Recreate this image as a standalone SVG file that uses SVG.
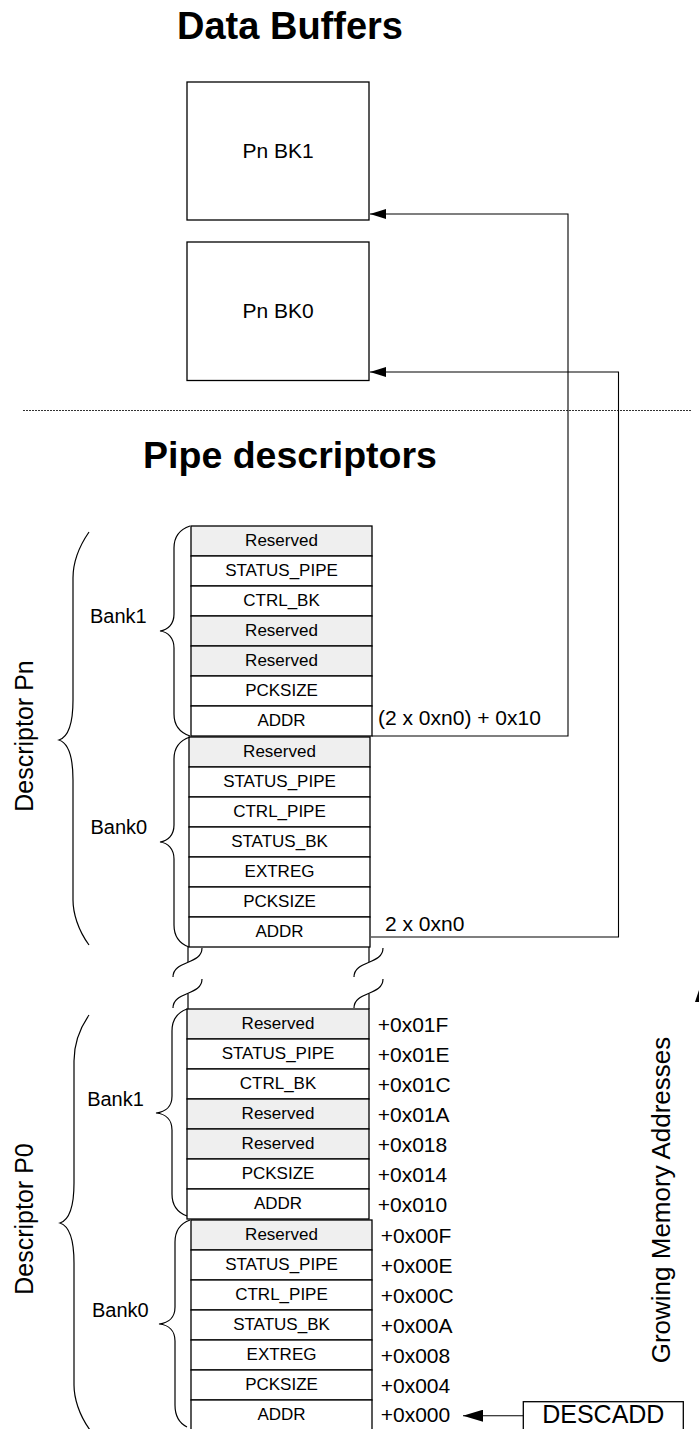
<svg xmlns="http://www.w3.org/2000/svg" width="699" height="1429" viewBox="0 0 699 1429">
<style>
text{font-family:"Liberation Sans",Arial,sans-serif;fill:#000}
.title{font-weight:bold;text-anchor:middle}
.box{fill:#fff;stroke:#000;stroke-width:1.3}
.res{fill:#efefef;stroke:#000;stroke-width:1.3}
.reg{fill:#fff;stroke:#000;stroke-width:1.3}
.rt{font-size:17px;text-anchor:middle}
.off{font-size:21px}
.bank{font-size:20px;text-anchor:middle}
.desc{font-size:25px;text-anchor:middle}
.br{fill:none;stroke:#000;stroke-width:1.2}
.ln{fill:none;stroke:#000;stroke-width:1.1}
</style>
<defs>
<marker id="ah" viewBox="0 0 16 10" refX="16" refY="5" markerWidth="16" markerHeight="10" orient="auto" markerUnits="userSpaceOnUse"><path d="M0,0 L16,5 L0,10 z" fill="#000"/></marker>
<marker id="ah2" viewBox="0 0 20 12" refX="20" refY="6" markerWidth="20" markerHeight="12" orient="auto" markerUnits="userSpaceOnUse"><path d="M0,0 L20,6 L0,12 z" fill="#000"/></marker>
</defs>

<text class="title" x="290" y="39" font-size="38">Data Buffers</text>
<text class="title" x="290" y="468" font-size="37.5">Pipe descriptors</text>
<line x1="23" y1="410.5" x2="692" y2="410.5" stroke="#333" stroke-width="1" stroke-dasharray="2 1"/>

<g id="bk1">
<rect class="box" x="187" y="82" width="182" height="138"/>
<text x="278" y="158" font-size="21" text-anchor="middle">Pn BK1</text>
</g>
<g id="bk0">
<rect class="box" x="187" y="242" width="182" height="138.5"/>
<text x="278" y="318" font-size="21" text-anchor="middle">Pn BK0</text>
</g>

<g id="pn-bank1">
<rect class="res" x="191" y="526" width="181" height="30"/><text class="rt" x="281.5" y="546">Reserved</text>
<rect class="reg" x="191" y="556" width="181" height="30"/><text class="rt" x="281.5" y="576">STATUS_PIPE</text>
<rect class="reg" x="191" y="586" width="181" height="30"/><text class="rt" x="281.5" y="606">CTRL_BK</text>
<rect class="res" x="191" y="616" width="181" height="30"/><text class="rt" x="281.5" y="636">Reserved</text>
<rect class="res" x="191" y="646" width="181" height="30"/><text class="rt" x="281.5" y="666">Reserved</text>
<rect class="reg" x="191" y="676" width="181" height="30"/><text class="rt" x="281.5" y="696">PCKSIZE</text>
<rect class="reg" x="191" y="706" width="181" height="30"/><text class="rt" x="281.5" y="726">ADDR</text>
</g>
<g id="pn-bank0">
<rect class="res" x="189" y="737" width="181" height="30"/><text class="rt" x="279.5" y="757">Reserved</text>
<rect class="reg" x="189" y="767" width="181" height="30"/><text class="rt" x="279.5" y="787">STATUS_PIPE</text>
<rect class="reg" x="189" y="797" width="181" height="30"/><text class="rt" x="279.5" y="817">CTRL_PIPE</text>
<rect class="reg" x="189" y="827" width="181" height="30"/><text class="rt" x="279.5" y="847">STATUS_BK</text>
<rect class="reg" x="189" y="857" width="181" height="30"/><text class="rt" x="279.5" y="877">EXTREG</text>
<rect class="reg" x="189" y="887" width="181" height="30"/><text class="rt" x="279.5" y="907">PCKSIZE</text>
<rect class="reg" x="189" y="917" width="181" height="30"/><text class="rt" x="279.5" y="937">ADDR</text>
</g>

<g id="p0-bank1">
<rect class="res" x="187" y="1009" width="182" height="30"/><text class="rt" x="278" y="1029">Reserved</text>
<rect class="reg" x="187" y="1039" width="182" height="30"/><text class="rt" x="278" y="1059">STATUS_PIPE</text>
<rect class="reg" x="187" y="1069" width="182" height="30"/><text class="rt" x="278" y="1089">CTRL_BK</text>
<rect class="res" x="187" y="1099" width="182" height="30"/><text class="rt" x="278" y="1119">Reserved</text>
<rect class="res" x="187" y="1129" width="182" height="30"/><text class="rt" x="278" y="1149">Reserved</text>
<rect class="reg" x="187" y="1159" width="182" height="30"/><text class="rt" x="278" y="1179">PCKSIZE</text>
<rect class="reg" x="187" y="1189" width="182" height="30"/><text class="rt" x="278" y="1209">ADDR</text>
</g>
<g id="p0-bank0">
<rect class="res" x="191" y="1220" width="181" height="30"/><text class="rt" x="281.5" y="1240">Reserved</text>
<rect class="reg" x="191" y="1250" width="181" height="30"/><text class="rt" x="281.5" y="1270">STATUS_PIPE</text>
<rect class="reg" x="191" y="1280" width="181" height="30"/><text class="rt" x="281.5" y="1300">CTRL_PIPE</text>
<rect class="reg" x="191" y="1310" width="181" height="30"/><text class="rt" x="281.5" y="1330">STATUS_BK</text>
<rect class="reg" x="191" y="1340" width="181" height="30"/><text class="rt" x="281.5" y="1360">EXTREG</text>
<rect class="reg" x="191" y="1370" width="181" height="30"/><text class="rt" x="281.5" y="1390">PCKSIZE</text>
<rect class="reg" x="191" y="1400" width="181" height="30"/><text class="rt" x="281.5" y="1420">ADDR</text>
</g>

<g id="offsets">
<text class="off" x="377.7" y="1031.5">+0x01F</text>
<text class="off" x="377.7" y="1061.5">+0x01E</text>
<text class="off" x="377.7" y="1091.5">+0x01C</text>
<text class="off" x="377.7" y="1121.5">+0x01A</text>
<text class="off" x="377.7" y="1151.5">+0x018</text>
<text class="off" x="377.7" y="1181.5">+0x014</text>
<text class="off" x="377.7" y="1211.5">+0x010</text>
<text class="off" x="380.7" y="1242.5">+0x00F</text>
<text class="off" x="380.7" y="1272.5">+0x00E</text>
<text class="off" x="380.7" y="1302.5">+0x00C</text>
<text class="off" x="380.7" y="1332.5">+0x00A</text>
<text class="off" x="380.7" y="1362.5">+0x008</text>
<text class="off" x="380.7" y="1392.5">+0x004</text>
<text class="off" x="380.7" y="1421.5">+0x000</text>
</g>

<g id="braces">
<path class="br" d="M190 526 C178 530 174 538 174 548 L174 614 C174 624 168 630 160 631 C168 632 174 638 174 648 L174 714 C174 724 178 732 190 736"/>
<path class="br" d="M190 737 C178 741 174 749 174 759 L174 825 C174 835 168 841 160 842 C168 843 174 849 174 859 L174 925 C174 935 178 943 189 947"/>
<path class="br" d="M89 532 C78 548 73 565 73 578 L73 700 C73 725 68 737 59 740 C68 743 73 755 73 780 L73 900 C73 913 78 930 89 945"/>
<path class="br" d="M187 1009 C176 1013 172 1021 172 1031 L172 1096 C172 1106 166 1112 156 1113 C166 1114 172 1120 172 1130 L172 1194 C172 1204 176 1212 187 1216"/>
<path class="br" d="M190 1220 C179 1224 175 1232 175 1242 L175 1307 C175 1317 169 1323 159 1324 C169 1325 175 1331 175 1341 L175 1405 C175 1415 179 1423 187 1427"/>
<path class="br" d="M89 1015 C78 1031 74 1048 74 1061 L74 1183 C74 1208 69 1220 60 1223 C69 1226 74 1238 74 1263 L74 1385 C74 1398 79 1415 90 1430"/>
</g>

<g id="labels">
<text class="bank" x="118.3" y="622.7">Bank1</text>
<text class="bank" x="118.8" y="834">Bank0</text>
<text class="bank" x="115.5" y="1105.7">Bank1</text>
<text class="bank" x="120.3" y="1316.7">Bank0</text>
<text class="desc" transform="translate(32.5,736) rotate(-90)">Descriptor Pn</text>
<text class="desc" transform="translate(32.5,1219) rotate(-90)">Descriptor P0</text>
<text font-size="26" text-anchor="middle" transform="translate(669.5,1200) rotate(-90)">Growing Memory Addresses</text>
<text font-size="21" x="378" y="725">(2 x 0xn0) + 0x10</text>
<text font-size="21" x="385" y="931">2 x 0xn0</text>
</g>

<g id="breaks">
<path class="br" d="M188 947 V962 M188 993.5 V1009 M369 947 V962 M369 993.5 V1009"/>
<path class="br" d="M202 948 C202 965 173 960 173 977 M202 979 C202 996 173 991 173 1008"/>
<path class="br" d="M383 948 C383 965 354 960 354 977 M383 979 C383 996 354 991 354 1008"/>
</g>

<g id="descadd">
<rect class="box" x="523.3" y="1401.7" width="160" height="40"/>
<text x="603.3" y="1422.7" font-size="25" text-anchor="middle">DESCADD</text>
</g>

<g id="connectors">
<path class="ln" d="M372 736 H568 V214 H370" marker-end="url(#ah)"/>
<path class="ln" d="M371 937 H618.5 V372 H370" marker-end="url(#ah)"/>
<path class="ln" d="M523 1415.7 H463" marker-end="url(#ah2)"/>
<path d="M700 987 L695 1002 L705 1002 z" fill="#000"/>
</g>
</svg>
